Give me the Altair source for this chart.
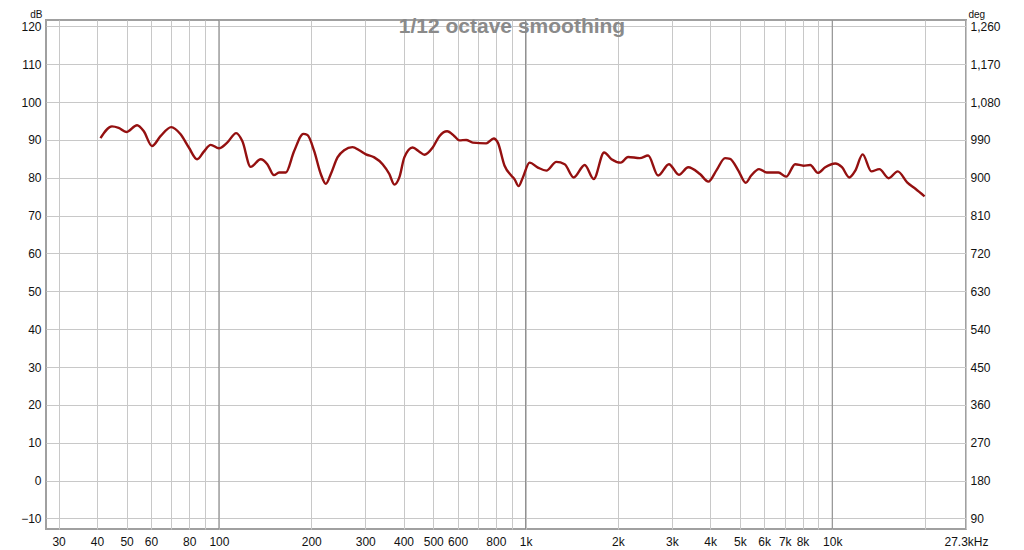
import altair as alt
import pandas as pd

# Frequency response
freq_hz = [41.1, 44.8, 47.1, 49.9, 54.1, 56.9, 60.5, 64.5, 69.9, 75.0, 79.8, 84.9, 89.3, 94.0,
           100, 106.4, 113.9, 119.2, 126.9, 136.9, 143.8, 151.2, 157.1, 165.2, 175.8, 188.6,
           194.4, 204.4, 214.9, 223.2, 231.7, 243.6, 256.1, 272.7, 286.8, 301.6, 321.0, 341.8,
           359.5, 373.3, 387.5, 402.4, 428.2, 450.4, 467.7, 497.9, 523.6, 554.8, 586.1, 608.5,
           640.1, 672.8, 744.0, 787.8, 812.0, 854.1, 897.9, 921, 948.7, 979.9, 1030.6, 1097,
           1169, 1260, 1341, 1435, 1559, 1668, 1803, 1906, 2044, 2160, 2358, 2510, 2706, 2934,
           3162, 3392, 3704, 3943, 4201, 4470, 4642, 4941, 5224, 5442, 5772, 6117, 6676, 7074,
           7570, 8058, 8475, 8981, 9487, 10230, 10757, 11366, 11890, 12563, 13412, 14244, 15276,
           16348, 17544, 18674, 20000]
spl_db = [90.5, 93.6, 93.2, 92.1, 93.9, 92.3, 88.4, 91.0, 93.4, 91.5, 88.0, 84.9, 86.9, 88.7,
          87.8, 89.3, 91.8, 89.7, 82.9, 84.9, 83.6, 80.7, 81.4, 81.4, 87.0, 91.6,
          91.3, 87.1, 81.0, 78.4, 81.0, 85.4, 87.3, 88.1, 87.3, 86.2, 85.4, 83.6,
          81.0, 78.2, 80.1, 85.4, 88.0, 86.9, 86.1, 88.0, 91.0, 92.3, 91.0, 89.9,
          90.0, 89.3, 89.1, 90.4, 89.3, 83.2, 80.6, 79.6, 77.8, 80.1, 84.0, 82.7,
          81.9, 84.2, 83.6, 80.1, 83.4, 79.7, 86.7, 84.9, 84.0, 85.5, 85.2, 85.9, 80.6, 83.6,
          80.8, 82.8, 81.0, 79.0, 82.1, 85.2, 85.0, 81.9, 78.7, 80.6, 82.3, 81.4, 81.4, 80.3,
          83.6, 83.2, 83.4, 81.3, 82.8, 83.8, 82.8, 80.1, 81.9, 86.2, 81.7, 82.3, 79.9,
          81.7, 78.8, 77.1, 75.1]

# Axes
grid_freqs = [30, 40, 50, 60, 70, 80, 90, 100, 200, 300, 400, 500, 600, 700, 800, 900,
              1000, 2000, 3000, 4000, 5000, 6000, 7000, 8000, 9000, 10000, 20000, 27300]
label_freqs = [30, 40, 50, 60, 80, 100, 200, 300, 400, 500, 600, 800,
               1000, 2000, 3000, 4000, 5000, 6000, 7000, 8000, 10000, 27300]
label_texts = ["30", "40", "50", "60", "80", "100", "200", "300", "400", "500", "600", "800",
               "1k", "2k", "3k", "4k", "5k", "6k", "7k", "8k", "10k", "27.3kHz"]
decade_freqs = [100, 1000, 10000]
db_ticks = list(range(-10, 121, 10))
deg_ticks = list(range(90, 1261, 90))
title_text = ["1/12 octave smoothing"]

x_domain = [27.3, 27300]
db_domain = [-12.8, 121.7]
deg_domain = [180 + 9 * db_domain[0], 180 + 9 * db_domain[1]]

FONT = "Liberation Sans"
GRID = "#c8c8c8"
TXT = "#111111"

curve = pd.DataFrame({"freq": freq_hz, "db": spl_db})
decades = pd.DataFrame({"freq": decade_freqs})
degs = pd.DataFrame({"deg": deg_ticks})
titles = pd.DataFrame({"t": title_text})

vals_js = "[" + ",".join(str(v) for v in label_freqs) + "]"
texts_js = "[" + ",".join("'" + t + "'" for t in label_texts) + "]"
label_expr = f"{texts_js}[indexof({vals_js}, datum.value)] || ''"

x_enc = alt.X(
    "freq:Q",
    scale=alt.Scale(type="log", domain=x_domain, nice=False),
    axis=alt.Axis(values=grid_freqs, labelExpr=label_expr, grid=True, gridColor=GRID,
                  ticks=False, domain=False, labelOverlap=False, labelFlush=False,
                  labelPadding=7, labelFont=FONT, labelFontSize=12, labelColor=TXT,
                  title=None),
)

rules = alt.Chart(decades).mark_rule(color="#8a8a8a", strokeWidth=1).encode(x=x_enc)

line = alt.Chart(curve).mark_line(color="#941010", strokeWidth=2.4, interpolate="monotone").encode(
    x=x_enc,
    y=alt.Y(
        "db:Q",
        scale=alt.Scale(domain=db_domain, nice=False, zero=False),
        axis=alt.Axis(values=db_ticks, grid=True, gridColor=GRID, ticks=False, domain=False,
                      labelPadding=5, labelFont=FONT, labelFontSize=12, labelColor=TXT,
                      title="dB", titleAngle=0, titleAlign="right", titleBaseline="alphabetic",
                      titleX=-4, titleY=-2.5, titleFont=FONT, titleFontSize=10,
                      titleFontWeight="normal", titleColor=TXT),
    ),
)

deg_layer = alt.Chart(degs).mark_point(opacity=0).encode(
    y=alt.Y(
        "deg:Q",
        scale=alt.Scale(domain=deg_domain, nice=False, zero=False),
        axis=alt.Axis(orient="right", values=deg_ticks, format=",d", grid=False, ticks=False,
                      domain=False, labelPadding=4, labelFont=FONT, labelFontSize=12,
                      labelColor=TXT, title="deg", titleAngle=0, titleAlign="left",
                      titleBaseline="alphabetic", titleX=2, titleY=-2.5, titleFont=FONT,
                      titleFontSize=10, titleFontWeight="normal", titleColor=TXT),
    )
)

title_layer = alt.Chart(titles).mark_text(
    font=FONT, fontSize=21, fontWeight="bold", color="#8a8a8a", align="center", baseline="middle"
).encode(text="t:N", x=alt.value(466), y=alt.value(7))

chart = (
    alt.layer(rules, line, deg_layer, title_layer)
    .resolve_scale(y="independent")
    .properties(
        width=920,
        height=509,
        autosize=alt.AutoSizeParams(type="none"),
        padding={"left": 38, "top": 12, "right": 50, "bottom": 20},
        background="white",
    )
    .configure_view(stroke="#a0a0a0", strokeWidth=2)
)

chart.save("out.html", embed_options={"renderer": "svg", "actions": False})
